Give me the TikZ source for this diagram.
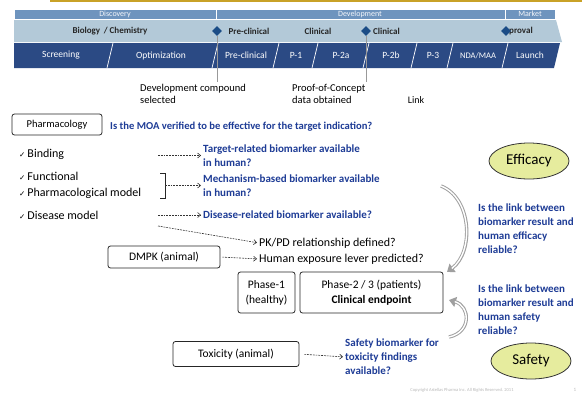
\documentclass[tikz,border=0pt]{standalone}
\usepackage{fontspec}
\setmainfont{Carlito}
\newfontfamily\symfont{DejaVu Sans}
\usetikzlibrary{arrows.meta,shapes.geometric,calc}
\definecolor{bandA}{HTML}{6E94BE}
\definecolor{bandB}{HTML}{B3C9D8}
\definecolor{bandC}{HTML}{2B4A84}
\definecolor{qblue}{HTML}{1E3C96}
\definecolor{milestone}{HTML}{1B4C86}
\definecolor{ovalfill}{HTML}{E6EC9E}
\definecolor{goldline}{HTML}{C9A227}
\newcommand{\tick}{{\symfont\fontsize{7.5}{8}\selectfont ✓}\,}
\begin{document}
\begin{tikzpicture}[x=1pt,y=-1pt,
  txt/.style={inner sep=0pt, font=\fontsize{12}{14}\selectfont, align=left},
  note/.style={inner sep=0pt, font=\fontsize{10.5}{12}\selectfont, align=left},
  q/.style={inner sep=0pt, font=\fontsize{11}{14}\selectfont\bfseries, text=qblue, align=left},
  box/.style={draw=black!85, line width=0.8pt, rounded corners=2.5pt, inner sep=0pt,
    align=center, font=\fontsize{11.5}{15}\selectfont},
  dasharrow/.style={draw=black!80, dash pattern=on 1.8pt off 1pt, line width=0.6pt,
    shorten >=2pt, -{Straight Barb[length=3pt,width=5pt]}},
  oval/.style={ellipse, draw=black!80, line width=0.8pt, fill=ovalfill, inner sep=0pt,
    minimum width=80pt, minimum height=36pt, font=\fontsize{15}{17}\selectfont},
  rowone/.style={fill=bandA, draw=white, line width=0.6pt},
  rowlabA/.style={inner sep=0pt, text=white!92!bandA, font=\fontsize{8}{9}\selectfont},
  rowlabB/.style={inner sep=0pt, text=black!85, font=\fontsize{9}{10}\selectfont\bfseries},
  rowlabC/.style={inner sep=0pt, text=white, font=\fontsize{9.5}{10}\selectfont},
  stagediv/.style={draw=white, line width=0.7pt},
  mstone/.style={diamond, fill=milestone, inner sep=0pt, minimum size=10pt},
  mline/.style={draw=gray!80, line width=0.6pt},
  curvy/.style={draw=gray!75, line width=3.4pt, -{Triangle[length=7pt,width=10pt]}},
  curvyin/.style={draw=white, line width=1.4pt},
]
\useasboundingbox (0,0) rectangle (582,400);
\fill[white] (0,0) rectangle (582,400);
\fill[goldline] (50,0) rectangle (582,1.6);

% ---- phase bands ----
\path[rowone] (14,9) rectangle (216,19);
\path[rowone] (216,9) rectangle (505,19);
\path[rowone] (505,9) rectangle (555,19);
\node[rowlabA] (tDisc) at (115,14) {Discovery};
\node[rowlabA] (tDev) at (360,14) {Development};
\node[rowlabA] (tMkt) at (530,14) {Market};

\fill[bandB] (14,20) -- (556,20) -- (562,42) -- (14,42) -- cycle;
\node[rowlabB] (tBio) at (110,31) {Biology \,/ Chemistry};
\node[rowlabB] (tPre) at (249,31) {Pre-clinical};
\node[rowlabB] (tCl1) at (318,31) {Clinical};
\node[rowlabB, anchor=west] (tCl2) at (373,31) {Clinical};
\node[rowlabB, anchor=west] (tApp) at (509,31) {proval};

\fill[bandC] (14,43) -- (560,43) -- (554,68) -- (14,68) -- cycle;
\foreach \xt in {113,218,279,318,369,417,453,508}
  \draw[stagediv] (\xt,43) -- (\xt-6,68);
\node[rowlabC] (sScr) at (61,55.5) {Screening};
\node[rowlabC] (sOpt) at (161,55.5) {Optimization};
\node[rowlabC] (sPre) at (246,55.5) {Pre-clinical};
\node[rowlabC] (sP1) at (296,55.5) {P-1};
\node[rowlabC] (sP2a) at (341,55.5) {P-2a};
\node[rowlabC] (sP2b) at (391,55.5) {P-2b};
\node[rowlabC] (sP3) at (433,55.5) {P-3};
\node[rowlabC, font=\fontsize{8.5}{9}\selectfont] (sNda) at (478,55.5) {NDA/MAA};
\node[rowlabC] (sLau) at (530,55.5) {Launch};

% ---- milestones ----
\node[mstone] (dm1) at (217,31) {};
\node[mstone] (dm2) at (366,31) {};
\node[mstone] (dm3) at (506,31) {};
\coordinate (dm1end) at (217,82);
\coordinate (dm2end) at (366,82);
\draw[mline] (dm1.south) -- (dm1end);
\draw[mline] (dm2.south) -- (dm2end);

\node[note, anchor=west] (devsel) at (140,93.5) {Development compound\\selected};
\node[note, anchor=west] (pocdata) at (292,93.5) {Proof-of-Concept\\data obtained};
\node[note, font=\fontsize{10}{12}\selectfont] (link) at (416,100) {Link};

% ---- pharmacology ----
\node[box, minimum width=90pt, minimum height=21pt, font=\fontsize{10.5}{12}\selectfont] (pharm) at (57,124.5) {Pharmacology};
\node[q, anchor=west, font=\fontsize{10.6}{12}\selectfont\bfseries] (moa) at (110,127) {Is the MOA verified to be effective for the target indication?};

\node[txt, anchor=west] (bind) at (19,154) {\tick Binding};
\node[txt, anchor=west, font=\fontsize{12}{15.5}\selectfont] (func) at (19,185.5) {\tick Functional\\\tick Pharmacological model};
\node[txt, anchor=west] (dis) at (19,215) {\tick Disease model};

\node[q, anchor=west, font=\fontsize{11}{13.5}\selectfont\bfseries] (tgt) at (203,155.5) {Target-related biomarker available\\in human?};
\node[q, anchor=west, font=\fontsize{11}{14.5}\selectfont\bfseries] (mech) at (203,185.5) {Mechanism-based biomarker available\\in human?};
\node[q, anchor=west] (disbm) at (203,215) {Disease-related biomarker available?};

\coordinate (bindEnd) at (158,155.5);
\coordinate (disEnd) at (158,215);
\coordinate (disEnd2) at (158,226);
\draw[dasharrow] (bindEnd) -- (tgt.west);
\draw[dasharrow] (disEnd) -- (disbm.west);

% bracket grouping the functional items
\coordinate (brTop) at (160,173);
\coordinate (brBot) at (160,198);
\coordinate (brMid) at (165,185.5);
\draw[black!85, line width=0.7pt] (brTop) -- ++(5,0) -- ++(0,25) -- (brBot);
\draw[dasharrow] (brMid) -- (mech.west);

% ---- DMPK ----
\node[txt, anchor=west] (pkpd) at (259,243) {PK/PD relationship defined?};
\node[txt, anchor=west] (hexp) at (259,259) {Human exposure lever predicted?};
\draw[dasharrow] (disEnd2) -- (pkpd.west);
\node[box, minimum width=112pt, minimum height=22pt] (dmpk) at (164,257) {DMPK (animal)};
\draw[dasharrow, shorten <=2pt] (dmpk.east) -- (hexp.west);

% ---- clinical ----
\node[box, minimum width=57pt, minimum height=41pt] (ph1) at (266.5,292.5) {Phase-1\\(healthy)};
\node[box, minimum width=143pt, minimum height=41pt] (ph23) at (371.5,292.5) {Phase-2 / 3 (patients)\\\textbf{Clinical endpoint}};

% ---- toxicity ----
\node[box, minimum width=126pt, minimum height=25pt] (tox) at (236,354) {Toxicity (animal)};
\node[q, anchor=west] (sbm) at (345,357) {Safety biomarker for\\toxicity findings\\available?};
\draw[dasharrow, shorten <=5pt] (tox.east) -- (sbm.west);

% ---- efficacy / safety links ----
\node[oval] (eff) at (529,161) {Efficacy};
\node[oval] (saf) at (531,361) {Safety};
\node[q, anchor=west] (effq) at (478,229) {Is the link between\\biomarker result and\\human efficacy\\reliable?};
\node[q, anchor=west] (safq) at (478,309.5) {Is the link between\\biomarker result and\\human safety\\reliable?};

\coordinate (upTail) at (441,186);
\coordinate (upHead) at (447,272);
\coordinate (loTail) at (449,337);
\coordinate (loHead) at (449,300);
\draw[curvy] (upTail) .. controls (472,198) and (474,252) .. (upHead);
\draw[curvyin, shorten >=6pt] (upTail) .. controls (472,198) and (474,252) .. (upHead);
\draw[curvy] (loTail) .. controls (472,332) and (470,306) .. (loHead);
\draw[curvyin, shorten >=6pt] (loTail) .. controls (472,332) and (470,306) .. (loHead);

% ---- footer ----
\node[inner sep=0pt, text=gray!55, font=\fontsize{4.5}{5}\selectfont] (copy) at (462,390) {Copyright Astellas Pharma Inc. All Rights Reserved. 2011};
\node[inner sep=0pt, text=gray!55, font=\fontsize{5}{6}\selectfont] (pgno) at (575,390) {1};
\end{tikzpicture}
\end{document}
